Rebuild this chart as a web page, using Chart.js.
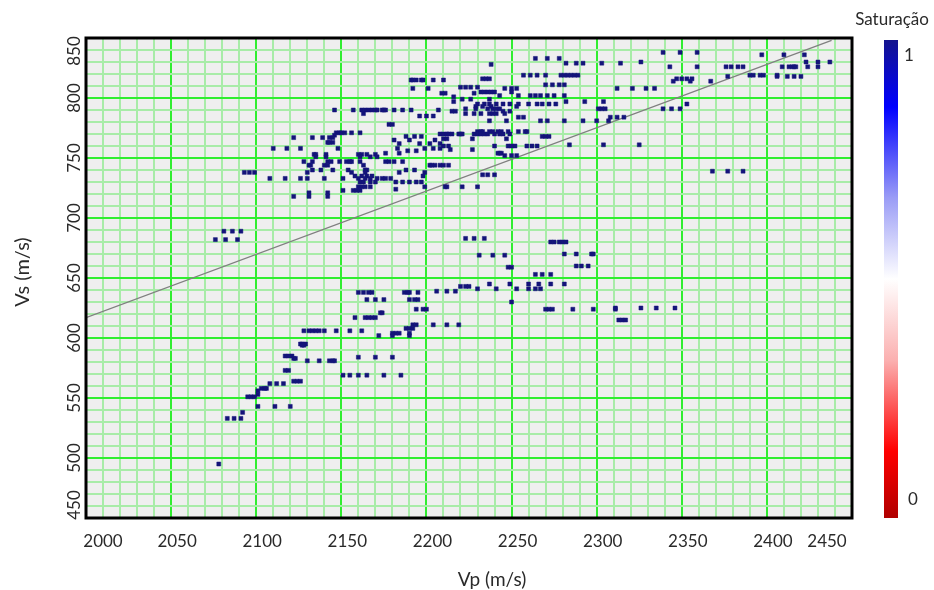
<!DOCTYPE html>
<html>
<head>
<meta charset="utf-8">
<script src="https://cdn.jsdelivr.net/npm/chart.js@4.4.1/dist/chart.umd.min.js"></script>
<style>
  html, body { margin: 0; padding: 0; background: #fff; }
  #wrap { width: 934px; height: 590px; }
</style>
</head>
<body>
<div id="wrap"><canvas id="chart" width="934" height="590"></canvas></div>
<script>
// Vs of each horizontal band of points, and the Vp values found in that band
const lowerVs = [689, 682, 683, 680, 670, 669, 660, 659, 653, 645, 643, 641, 639, 638, 632, 630, 625, 624, 621, 617,
  615, 611, 608, 606, 604, 602, 595, 594, 585, 584, 583, 581, 573, 569, 564, 562, 558, 556, 553, 551, 543, 538, 533, 495];
const lowerVp = [
  [2081, 2086, 2091], [2076, 2082, 2089], [2223, 2228, 2234], [2273, 2275, 2278, 2280, 2282],
  [2281, 2288, 2297, 2298], [2231, 2239, 2246], [2288, 2291, 2295], [2248, 2250], [2264, 2268, 2273],
  [2237, 2249, 2260, 2266, 2273, 2281], [2220, 2223, 2225], [2230, 2241, 2253, 2260, 2264, 2267],
  [2206, 2212, 2217], [2160, 2163, 2166, 2168, 2187, 2189, 2190, 2195], [2165, 2170, 2175, 2190, 2193, 2195],
  [2250], [2311, 2326, 2335, 2346], [2194, 2198, 2200, 2270, 2272, 2274, 2286, 2298, 2311], [2173, 2174],
  [2158, 2164, 2166, 2168, 2170], [2313, 2315, 2317], [2192, 2194, 2204, 2212, 2219], [2188, 2190, 2192],
  [2128, 2131, 2133, 2135, 2137, 2140, 2147, 2155, 2162], [2180, 2182, 2184, 2190], [2172, 2180, 2190],
  [2126, 2127, 2129], [2127, 2128], [2117, 2119, 2121], [2160, 2170, 2180], [2122, 2123],
  [2130, 2137, 2143, 2145, 2146], [2117, 2119], [2151, 2155, 2160, 2165, 2175, 2185], [2122, 2124, 2126],
  [2108, 2112, 2116], [2103, 2105, 2106], [2101], [2101], [2095, 2097, 2099], [2101, 2111, 2120], [2092],
  [2083, 2087, 2091], [2078]
];

const upperVs = [838, 836, 833, 830, 829, 828, 826, 819, 818, 816, 815, 814, 811, 809, 808, 805, 804, 802, 801, 799,
  797, 795, 793, 791, 790, 789, 787, 785, 784, 781, 778, 772, 771, 770, 769, 768, 767, 766, 765, 763,
  762, 761, 760, 758, 757, 756, 754, 753, 752, 751, 747, 744, 740, 739, 738, 736, 735, 733, 730, 726,
  724, 723, 721, 718];
const upperVp = [
  [2339, 2349, 2359],
  [2397, 2410, 2422],
  [2264, 2271, 2278],
  [2326, 2423, 2430, 2437],
  [2282, 2288, 2292, 2303, 2314],
  [2238],
  [2343, 2359, 2376, 2379, 2383, 2386, 2409, 2413, 2415, 2416, 2417, 2424, 2430],
  [2257, 2261, 2265, 2270, 2279, 2281, 2283, 2285, 2287, 2289, 2390, 2392, 2396, 2398, 2406],
  [2377, 2406, 2412, 2416, 2420],
  [2233, 2235, 2237, 2347, 2350, 2353, 2356],
  [2191, 2192, 2194, 2197, 2198, 2204, 2210],
  [2345, 2355, 2367],
  [2270, 2274, 2278, 2281],
  [2220, 2223, 2226, 2230],
  [2192, 2201, 2246, 2250, 2253, 2312, 2321, 2329, 2334],
  [2232, 2234, 2236, 2238, 2240, 2250],
  [2209, 2211, 2228],
  [2243, 2254, 2261, 2264, 2267, 2271, 2275, 2281],
  [2216],
  [2221, 2226, 2237],
  [2216, 2282, 2293, 2304],
  [2230, 2234, 2237, 2241, 2245, 2249, 2254, 2260, 2265, 2268, 2272, 2276, 2353],
  [2229, 2233, 2238, 2253],
  [2223, 2229, 2236, 2239, 2241, 2243, 2301, 2303, 2305, 2339, 2344, 2349],
  [2146, 2157, 2162, 2164, 2166, 2168, 2170, 2171, 2174, 2175, 2176, 2181, 2186, 2191, 2207],
  [2215, 2217, 2245, 2249],
  [2163, 2223, 2228, 2232, 2237, 2239, 2241, 2246],
  [2196, 2200, 2204],
  [2254, 2257, 2308, 2312, 2316],
  [2237, 2247, 2267, 2271, 2281, 2292, 2300, 2307],
  [2178, 2180],
  [2230, 2232, 2233, 2237, 2239, 2242, 2244, 2248, 2254, 2258, 2259],
  [2147, 2149, 2150, 2152, 2156, 2161],
  [2208, 2210, 2212, 2213, 2215, 2219, 2220, 2221, 2228, 2230, 2232, 2234, 2236, 2240, 2243, 2245, 2249],
  [2146],
  [2188, 2193, 2197, 2268, 2270, 2272],
  [2122, 2133, 2139, 2143, 2145],
  [2210, 2212, 2227, 2247],
  [2181, 2190, 2205],
  [2142, 2143, 2145],
  [2184, 2196, 2202, 2208],
  [2284, 2304, 2325],
  [2210, 2213, 2240, 2248, 2250, 2252, 2259, 2262, 2265],
  [2110, 2118, 2126, 2148, 2183, 2199, 2204, 2208],
  [2214, 2227],
  [2189, 2194],
  [2176, 2184, 2242, 2243, 2244],
  [2134, 2135, 2141, 2160, 2162, 2165, 2170],
  [2246, 2250, 2253],
  [2135, 2141, 2161, 2167, 2171],
  [2128, 2133, 2142, 2144, 2149, 2153, 2155, 2156, 2161, 2176, 2178, 2181, 2186],
  [2131, 2132, 2140, 2142, 2163, 2202, 2203, 2205, 2208, 2210, 2213],
  [2133, 2138, 2145, 2154, 2164, 2165, 2188, 2193],
  [2368, 2377, 2386],
  [2093, 2096, 2099, 2130, 2156, 2164, 2184, 2199],
  [2233, 2236, 2240],
  [2158, 2162, 2165, 2168, 2198],
  [2108, 2117, 2126, 2130, 2140, 2151, 2160, 2164, 2167, 2171, 2174, 2176, 2179],
  [2161, 2163, 2167, 2170, 2182, 2186, 2190, 2194, 2197],
  [2160, 2162, 2164, 2167, 2199, 2211, 2212, 2221, 2230],
  [2182],
  [2151, 2157, 2159, 2161],
  [2131, 2142],
  [2122, 2131, 2142]
];

// straight trend line across the plot
const trendVp = [2000, 2438];
const trendVs = [617, 848];

const vpTicks = [2000, 2050, 2100, 2150, 2200, 2250, 2300, 2350, 2400, 2450];
const vsTicks = [450, 500, 550, 600, 650, 700, 750, 800, 850];
const satLabels = ['1', '0'];

function toPoints(vsRows, vpRows) {
  const pts = [];
  vsRows.forEach((s, i) => vpRows[i].forEach(p => pts.push({ x: p, y: s })));
  return pts;
}

const FONT = 'Lato, "Open Sans", sans-serif';
const isMajor = v => Math.abs(v % 50) < 1e-6;

const decor = {
  id: 'decor',
  beforeDraw(chart) {
    const { ctx, chartArea: a } = chart;
    ctx.save();
    ctx.fillStyle = '#efefef';
    ctx.fillRect(a.left, a.top, a.width, a.height);
    ctx.restore();
  },
  afterDraw(chart) {
    const { ctx, chartArea: a, scales: { x, y } } = chart;
    ctx.save();
    ctx.strokeStyle = '#000';
    ctx.lineWidth = 3;
    ctx.strokeRect(a.left, a.top, a.width, a.height);

    ctx.fillStyle = '#2a2a2a';
    ctx.textAlign = 'center';
    ctx.textBaseline = 'middle';
    ctx.font = '17px ' + FONT;
    vpTicks.forEach(v => {
      let px = x.getPixelForValue(v) + 6;
      px = Math.min(Math.max(px, a.left + 17), a.right - 25);
      ctx.fillText(String(v), px, a.bottom + 24);
    });
    vsTicks.forEach(v => {
      let py = y.getPixelForValue(v);
      py = Math.min(Math.max(py, a.top + 13), a.bottom - 13);
      ctx.save();
      ctx.translate(a.left - 11, py);
      ctx.rotate(-Math.PI / 2);
      ctx.fillText(String(v), 0, 0);
      ctx.restore();
    });

    ctx.font = '19px ' + FONT;
    ctx.fillText('Vp (m/s)', 492, 580);
    ctx.font = '20px ' + FONT;
    ctx.save();
    ctx.translate(23, 272);
    ctx.rotate(-Math.PI / 2);
    ctx.fillText('Vs (m/s)', 0, 0);
    ctx.restore();

    // saturation colour bar
    const bx = 884, bw = 14, bt = 40, bb = 518;
    const g = ctx.createLinearGradient(0, bt, 0, bb);
    g.addColorStop(0, '#14148e');
    g.addColorStop(0.14, '#0000ff');
    g.addColorStop(0.33, '#9a9cf6');
    g.addColorStop(0.5, '#ffffff');
    g.addColorStop(0.67, '#fbb0b0');
    g.addColorStop(0.86, '#ff0000');
    g.addColorStop(1, '#b00000');
    ctx.fillStyle = g;
    ctx.fillRect(bx, bt, bw, bb - bt);

    ctx.fillStyle = '#2a2a2a';
    ctx.font = '17px ' + FONT;
    ctx.textAlign = 'left';
    ctx.fillText(satLabels[0], bx + 20, 56);
    ctx.fillText(satLabels[1], bx + 24, 500);
    ctx.font = '17px ' + FONT;
    ctx.textAlign = 'center';
    ctx.fillText('Saturação', 892, 20);
    ctx.restore();
  }
};

const gridOpts = {
  color: c => isMajor(c.tick.value) ? '#30ee30' : '#a8eca8',
  lineWidth: 2,
  drawTicks: false
};

new Chart(document.getElementById('chart'), {
  type: 'scatter',
  data: {
    datasets: [
      {
        data: toPoints(upperVs, upperVp).concat(toPoints(lowerVs, lowerVp)),
        pointStyle: 'rect',
        pointRadius: 2.8,
        backgroundColor: '#14147a',
        borderColor: '#14147a',
        borderWidth: 0.5
      },
      {
        type: 'line',
        data: trendVp.map((p, i) => ({ x: p, y: trendVs[i] })),
        borderColor: '#808080',
        borderWidth: 1.3,
        pointRadius: 0,
        fill: false
      }
    ]
  },
  options: {
    responsive: false,
    animation: false,
    devicePixelRatio: 1,
    layout: { padding: { left: 86, right: 82, top: 38, bottom: 72 } },
    plugins: { legend: { display: false }, tooltip: { enabled: false } },
    scales: {
      x: {
        type: 'linear', min: 2000, max: 2450,
        ticks: { display: false, stepSize: 10, autoSkip: false },
        grid: gridOpts,
        border: { display: false }
      },
      y: {
        type: 'linear', min: 450, max: 850,
        ticks: { display: false, stepSize: 10, autoSkip: false },
        grid: gridOpts,
        border: { display: false }
      }
    }
  },
  plugins: [decor]
});
</script>
</body>
</html>
